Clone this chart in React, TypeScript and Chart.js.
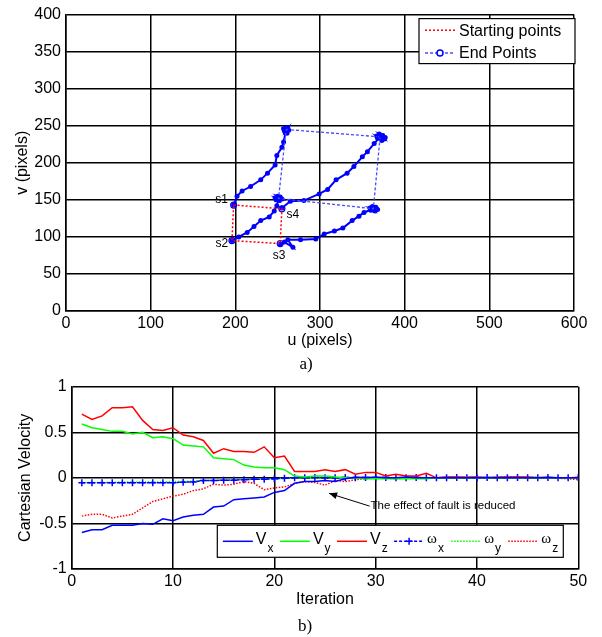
import React, { useEffect, useRef } from 'react';
import { Chart, registerables } from 'chart.js';

Chart.register(...registerables);

const SANS = '"Liberation Sans", Arial, Helvetica, sans-serif';
const SERIF = '"Liberation Serif", "Times New Roman", serif';

// ---------- Top chart (a) data ----------
const uTicks = [0, 100, 200, 300, 400, 500, 600];
const vTicks = [0, 50, 100, 150, 200, 250, 300, 350, 400];

// Starting points polygon s1 -> s4 -> s3 -> s2 -> s1
const startU = [198, 255, 253, 196, 198];
const startV = [143, 138, 91, 95, 143];
const startNames = ['s1', 's4', 's3', 's2'];

// End points polygon
const endU = [260, 371, 363, 251, 260];
const endV = [245, 235, 138, 152, 245];

// Feature trajectories
const traj1U = [198, 202, 208, 218, 230, 238, 247, 249, 255, 257, 260, 258, 262, 259, 263, 257, 261, 260];
const traj1V = [143, 155, 162, 168, 177, 186, 197, 210, 221, 228, 245, 243, 247, 241, 244, 246, 240, 244];
const traj2U = [196, 204, 214, 222, 230, 240, 246, 249, 251, 248, 253, 250, 255, 247, 252, 251];
const traj2V = [95, 100, 106, 114, 122, 127, 135, 142, 152, 150, 154, 155, 151, 153, 149, 152];
const traj3U = [253, 258, 268, 262, 277, 295, 305, 317, 327, 338, 346, 352, 363, 360, 366, 362, 365, 359, 368, 363];
const traj3V = [90, 93, 86, 96, 96, 97, 104, 108, 112, 122, 128, 133, 138, 136, 140, 141, 135, 139, 137, 138];
const traj4U = [255, 265, 281, 299, 309, 319, 332, 340, 350, 356, 364, 371, 368, 374, 370, 376, 367, 373, 377, 371];
const traj4V = [139, 148, 149, 158, 164, 177, 186, 195, 208, 215, 226, 235, 233, 237, 239, 232, 236, 230, 234, 235];

// ---------- Bottom chart (b) data ----------
const iterations = [
  1, 2, 3, 4, 5, 6, 7, 8, 9, 10, 11, 12, 13, 14, 15, 16, 17, 18, 19, 20, 21, 22, 23, 24, 25,
  26, 27, 28, 29, 30, 31, 32, 33, 34, 35, 36, 37, 38, 39, 40, 41, 42, 43, 44, 45, 46, 47, 48, 49, 50,
];
const iterTicks = [0, 10, 20, 30, 40, 50];
const velTicks = [-1, -0.5, 0, 0.5, 1];
const seriesNames = ['Vx', 'Vy', 'Vz', 'ωx', 'ωy', 'ωz'];

const vx = [
  -0.6, -0.57, -0.57, -0.52, -0.52, -0.52, -0.5, -0.51, -0.45, -0.47, -0.43, -0.41, -0.4, -0.32, -0.31,
  -0.24, -0.23, -0.22, -0.21, -0.16, -0.14, -0.06, -0.04, -0.04, -0.03, -0.04, -0.01, 0.01, 0.0, 0.01,
  0.0, 0.0, 0.01, 0.0, 0.0, 0.0, 0.005, 0.0, 0.0, 0.005, 0.0, 0.0, 0.005, 0.0, 0.0, 0.0, 0.005, 0.0, 0.0, 0.0,
];
const vy = [
  0.59, 0.55, 0.53, 0.51, 0.51, 0.48, 0.5, 0.44, 0.45, 0.43, 0.36, 0.35, 0.34, 0.22, 0.21, 0.2, 0.14,
  0.12, 0.11, 0.11, 0.09, 0.02, 0.01, 0.02, 0.02, 0.01, 0.0, 0.0, -0.01, -0.01, -0.01, -0.01, -0.01,
  -0.01, -0.01, 0.0, 0.0, 0.0, 0.005, 0.0, 0.0, 0.005, 0.0, 0.0, 0.0, 0.005, 0.0, 0.0, 0.0, 0.0,
];
const vz = [
  0.7, 0.64, 0.68, 0.77, 0.77, 0.78, 0.63, 0.53, 0.52, 0.55, 0.47, 0.45, 0.41, 0.27, 0.32, 0.29, 0.29,
  0.28, 0.34, 0.22, 0.24, 0.07, 0.07, 0.07, 0.09, 0.07, 0.09, 0.04, 0.06, 0.06, 0.02, 0.04, 0.02, 0.02,
  0.05, 0.0, 0.01, 0.01, 0.01, 0.01, 0.0, 0.01, 0.01, 0.01, 0.01, 0.005, 0.005, 0.0, 0.0, 0.0,
];
const wx = [
  -0.055, -0.055, -0.055, -0.055, -0.055, -0.055, -0.055, -0.055, -0.055, -0.055, -0.047, -0.045, -0.03,
  -0.03, -0.025, -0.025, -0.02, -0.015, -0.015, -0.01, -0.005, 0.0, 0.0, 0.005, 0.0, 0.0, 0.005, 0.0,
  0.005, 0.0, 0.005, 0.0, 0.0, 0.005, 0.0, 0.0, 0.0, 0.005, 0.0, 0.0, 0.005, 0.0, 0.0, 0.005, 0.0, 0.0,
  0.005, 0.0, 0.0, 0.005,
];
const wy = [
  -0.05, -0.05, -0.05, -0.05, -0.045, -0.045, -0.045, -0.045, -0.045, -0.04, -0.04, -0.035, -0.03, -0.03,
  -0.025, -0.02, -0.015, -0.015, -0.01, -0.01, -0.005, 0.0, 0.0, 0.0, 0.005, 0.0, 0.0, 0.0, 0.0, 0.0, 0.0,
  0.0, 0.0, 0.0, 0.0, 0.0, 0.0, 0.0, 0.0, 0.0, 0.0, 0.0, 0.0, 0.0, 0.0, 0.0, 0.0, 0.0, 0.0, 0.0,
];
const wz = [
  -0.42, -0.4, -0.4, -0.44, -0.42, -0.4, -0.33, -0.26, -0.23, -0.2, -0.18, -0.14, -0.12, -0.07, -0.08,
  -0.07, -0.04, -0.06, -0.13, -0.11, -0.1, -0.06, -0.04, -0.05, -0.08, -0.03, -0.04, -0.02, -0.01, 0.0,
  0.0, -0.01, 0.0, 0.01, 0.0, 0.0, 0.005, 0.0, 0.0, 0.005, 0.0, 0.005, 0.01, 0.01, 0.005, 0.0, 0.0,
  -0.005, -0.01, -0.02,
];
const annotationText = 'The effect of fault is reduced';
const arrowTail = [29.4, -0.31];
const arrowHead = [25.4, -0.17];

// ---------- helpers ----------
const pts = (xs: number[], ys: number[]) => xs.map((x, i) => ({ x, y: ys[i] }));

const tickFont = { family: SANS, size: 16 };
const gridOpts = { color: '#000', lineWidth: 1.5, drawTicks: false };
const borderOpts = { display: true, color: '#000', width: 1.5 };

const topLegendPlugin = {
  id: 'topLegend',
  afterDraw(chart: any) {
    const { ctx, chartArea: a } = chart;
    const ds = chart.data.datasets;
    const w = 156, h = 45;
    const x0 = a.right - w + 1, y0 = a.top + 4;
    ctx.save();
    ctx.fillStyle = '#fff';
    ctx.fillRect(x0, y0, w, h);
    ctx.strokeStyle = '#000';
    ctx.lineWidth = 1.2;
    ctx.setLineDash([]);
    ctx.strokeRect(x0, y0, w, h);
    const rows = [ds[0], ds[1]];
    rows.forEach((d: any, i: number) => {
      const yy = y0 + 11.6 + i * 22.7;
      ctx.strokeStyle = d.borderColor;
      ctx.lineWidth = 1.5;
      ctx.setLineDash(d.borderDash || []);
      ctx.beginPath();
      ctx.moveTo(x0 + 6, yy);
      ctx.lineTo(x0 + 36, yy);
      ctx.stroke();
      ctx.setLineDash([]);
      if (d.pointRadius > 0) {
        ctx.strokeStyle = '#0000ff';
        ctx.fillStyle = '#fff';
        ctx.beginPath();
        ctx.arc(x0 + 21, yy, 3, 0, Math.PI * 2);
        ctx.fill();
        ctx.stroke();
      }
      ctx.fillStyle = '#000';
      ctx.font = `16px ${SANS}`;
      ctx.textAlign = 'left';
      ctx.textBaseline = 'middle';
      ctx.fillText(d.label, x0 + 40, yy + 1);
    });
    ctx.restore();
  },
};

const startLabelPlugin = {
  id: 'startLabels',
  afterDatasetsDraw(chart: any) {
    const { ctx, scales } = chart;
    const offsets = [[-12, -5], [11, 6], [-1, 12], [-10, 3]];
    ctx.save();
    ctx.fillStyle = '#000';
    ctx.font = `12px ${SANS}`;
    ctx.textAlign = 'center';
    ctx.textBaseline = 'middle';
    startNames.forEach((n, i) => {
      const px = scales.x.getPixelForValue(startU[i]);
      const py = scales.y.getPixelForValue(startV[i]);
      ctx.fillText(n, px + offsets[i][0], py + offsets[i][1]);
    });
    ctx.restore();
  },
};

const bottomLegendPlugin = {
  id: 'bottomLegend',
  afterDraw(chart: any) {
    const { ctx, chartArea: a } = chart;
    const ds = chart.data.datasets;
    const w = 346, h = 32;
    const x0 = a.right - 15 - w, y0 = a.bottom - 11.7 - h;
    ctx.save();
    ctx.fillStyle = '#fff';
    ctx.fillRect(x0, y0, w, h);
    ctx.strokeStyle = '#000';
    ctx.lineWidth = 1.2;
    ctx.setLineDash([]);
    ctx.strokeRect(x0, y0, w, h);
    const yy = y0 + h / 2;
    ds.forEach((d: any, i: number) => {
      const lx = x0 + 5.5 + i * 57.1;
      ctx.strokeStyle = d.borderColor;
      ctx.lineWidth = 1.5;
      ctx.setLineDash(d.borderDash || []);
      ctx.beginPath();
      ctx.moveTo(lx, yy);
      ctx.lineTo(lx + 30, yy);
      ctx.stroke();
      ctx.setLineDash([]);
      if (d.pointRadius > 0) {
        ctx.lineWidth = 1.5;
        ctx.beginPath();
        ctx.moveTo(lx + 15 - 3.5, yy);
        ctx.lineTo(lx + 15 + 3.5, yy);
        ctx.moveTo(lx + 15, yy - 3.5);
        ctx.lineTo(lx + 15, yy + 3.5);
        ctx.stroke();
      }
      const name: string = d.label;
      const main = name.charAt(0);
      const sub = name.slice(1);
      ctx.fillStyle = '#000';
      ctx.textAlign = 'left';
      ctx.textBaseline = 'alphabetic';
      const isGreek = main === 'ω';
      ctx.font = isGreek ? `15px ${SERIF}` : `16px ${SANS}`;
      const tx = lx + 33;
      ctx.fillText(main, tx, yy + (isGreek ? 2 : 3));
      const mw = ctx.measureText(main).width;
      ctx.font = `12px ${SANS}`;
      ctx.fillText(sub, tx + mw + 1, yy + 11);
    });
    ctx.restore();
  },
};

const annotationPlugin = {
  id: 'faultNote',
  afterDatasetsDraw(chart: any) {
    const { ctx, scales } = chart;
    const tx = scales.x.getPixelForValue(arrowTail[0]);
    const ty = scales.y.getPixelForValue(arrowTail[1]);
    const hx = scales.x.getPixelForValue(arrowHead[0]);
    const hy = scales.y.getPixelForValue(arrowHead[1]);
    ctx.save();
    ctx.strokeStyle = '#000';
    ctx.fillStyle = '#000';
    ctx.lineWidth = 1;
    ctx.setLineDash([]);
    ctx.beginPath();
    ctx.moveTo(tx, ty);
    ctx.lineTo(hx, hy);
    ctx.stroke();
    const ang = Math.atan2(hy - ty, hx - tx);
    const L = 8, W = 3.5;
    ctx.beginPath();
    ctx.moveTo(hx, hy);
    ctx.lineTo(hx - L * Math.cos(ang) + W * Math.sin(ang), hy - L * Math.sin(ang) - W * Math.cos(ang));
    ctx.lineTo(hx - L * Math.cos(ang) - W * Math.sin(ang), hy - L * Math.sin(ang) + W * Math.cos(ang));
    ctx.closePath();
    ctx.fill();
    ctx.font = `11.5px ${SANS}`;
    ctx.textAlign = 'left';
    ctx.textBaseline = 'middle';
    ctx.fillText(annotationText, tx + 1, ty);
    ctx.restore();
  },
};

function makeTopConfig(): any {
  const trajStyle = {
    showLine: true,
    borderColor: '#0000ff',
    backgroundColor: '#0000ff',
    borderWidth: 2,
    pointRadius: 2.5,
    pointBorderWidth: 0,
    pointBackgroundColor: '#0000ff',
  };
  return {
    type: 'scatter',
    data: {
      datasets: [
        {
          label: 'Starting points',
          data: pts(startU, startV),
          showLine: true,
          borderColor: '#ff0000',
          borderWidth: 1.5,
          borderDash: [2, 2],
          pointRadius: 0,
        },
        {
          label: 'End Points',
          data: pts(endU, endV),
          showLine: true,
          borderColor: '#4a4aff',
          borderWidth: 1.3,
          borderDash: [3, 2],
          pointRadius: 3,
          pointBorderWidth: 1.2,
          pointBorderColor: '#0000ff',
          pointBackgroundColor: 'rgba(0,0,0,0)',
        },
        {
          label: 'start markers',
          data: pts(startU.slice(0, 4), startV.slice(0, 4)),
          showLine: false,
          pointRadius: 3,
          pointBorderWidth: 1.2,
          pointBorderColor: '#0000ff',
          pointBackgroundColor: 'rgba(0,0,0,0)',
        },
        { label: 'traj1', data: pts(traj1U, traj1V), ...trajStyle },
        { label: 'traj2', data: pts(traj2U, traj2V), ...trajStyle },
        { label: 'traj3', data: pts(traj3U, traj3V), ...trajStyle },
        { label: 'traj4', data: pts(traj4U, traj4V), ...trajStyle },
      ],
    },
    options: {
      animation: false,
      responsive: false,
      maintainAspectRatio: false,
      devicePixelRatio: 1,
      layout: { padding: { left: 0, right: 28, top: 12, bottom: 0 } },
      plugins: { legend: { display: false }, tooltip: { enabled: false } },
      scales: {
        x: {
          type: 'linear',
          min: 0,
          max: 600,
          afterBuildTicks: (s: any) => { s.ticks = uTicks.map((v) => ({ value: v })); },
          ticks: { font: tickFont, color: '#000', padding: 3, maxRotation: 0, callback: (v: any) => String(v) },
          grid: gridOpts,
          border: borderOpts,
          title: { display: true, text: 'u (pixels)', font: { family: SANS, size: 16 }, color: '#000', padding: { top: 0, bottom: 1.4 } },
          afterFit: (s: any) => { s.height = 41; },
        },
        y: {
          type: 'linear',
          min: 0,
          max: 400,
          afterBuildTicks: (s: any) => { s.ticks = vTicks.map((v) => ({ value: v })); },
          ticks: { font: tickFont, color: '#000', padding: 5, callback: (v: any) => String(v) },
          grid: gridOpts,
          border: borderOpts,
          title: { display: true, text: 'v (pixels)', font: { family: SANS, size: 16 }, color: '#000', padding: { top: 13, bottom: 0 } },
          afterFit: (s: any) => { s.width = 66; },
        },
      },
    },
    plugins: [startLabelPlugin, topLegendPlugin],
  };
}

function makeBottomConfig(): any {
  const base = { showLine: true, borderWidth: 1.5, pointRadius: 0 };
  return {
    type: 'scatter',
    data: {
      datasets: [
        { label: seriesNames[0], data: pts(iterations, vx), ...base, borderColor: '#0000ff' },
        { label: seriesNames[1], data: pts(iterations, vy), ...base, borderColor: '#00ff00' },
        { label: seriesNames[2], data: pts(iterations, vz), ...base, borderColor: '#ff0000' },
        {
          label: seriesNames[3],
          data: pts(iterations, wx),
          ...base,
          borderColor: '#0000ff',
          borderDash: [3, 2],
          pointRadius: 3.5,
          pointStyle: 'cross',
          pointBorderColor: '#0000ff',
          pointBorderWidth: 1.5,
        },
        { label: seriesNames[4], data: pts(iterations, wy), ...base, borderColor: '#00ff00', borderDash: [1.5, 1.5] },
        { label: seriesNames[5], data: pts(iterations, wz), ...base, borderColor: '#ff0000', borderDash: [1.5, 1.5] },
      ],
    },
    options: {
      animation: false,
      responsive: false,
      maintainAspectRatio: false,
      devicePixelRatio: 1,
      layout: { padding: { left: 0, right: 23.7, top: 14.7, bottom: 0 } },
      plugins: { legend: { display: false }, tooltip: { enabled: false } },
      scales: {
        x: {
          type: 'linear',
          min: 0,
          max: 50,
          afterBuildTicks: (s: any) => { s.ticks = iterTicks.map((v) => ({ value: v })); },
          ticks: { font: tickFont, color: '#000', padding: 3, maxRotation: 0, callback: (v: any) => String(v) },
          grid: gridOpts,
          border: borderOpts,
          title: { display: true, text: 'Iteration', font: { family: SANS, size: 16 }, color: '#000', padding: { top: 0, bottom: 2.4 } },
          afterFit: (s: any) => { s.height = 43; },
        },
        y: {
          type: 'linear',
          min: -1,
          max: 1,
          afterBuildTicks: (s: any) => { s.ticks = velTicks.map((v) => ({ value: v })); },
          ticks: { font: tickFont, color: '#000', padding: 5, callback: (v: any) => String(v) },
          grid: gridOpts,
          border: borderOpts,
          title: { display: true, text: 'Cartesian Velocity', font: { family: SANS, size: 16 }, color: '#000', padding: { top: 16.2, bottom: 0 } },
          afterFit: (s: any) => { s.width = 71.7; },
        },
      },
    },
    plugins: [annotationPlugin, bottomLegendPlugin],
  };
}

function ChartCanvas({ top, height, make }: { top: number; height: number; make: () => any }) {
  const ref = useRef<HTMLCanvasElement | null>(null);
  useEffect(() => {
    if (!ref.current) return;
    const chart = new Chart(ref.current, make());
    return () => chart.destroy();
  }, [make]);
  return (
    <canvas
      ref={ref}
      width={602}
      height={height}
      style={{ position: 'absolute', left: 0, top, width: 602, height }}
    />
  );
}

export default function App() {
  const label = (text: string, x: number, y: number) => (
    <div
      style={{
        position: 'absolute',
        left: x,
        top: y,
        transform: 'translate(-50%, -50%)',
        fontFamily: SERIF,
        fontSize: 17,
        lineHeight: 1,
        color: '#000',
        whiteSpace: 'nowrap',
      }}
    >
      {text}
    </div>
  );
  return (
    <div style={{ position: 'absolute', left: 0, top: 0, width: 602, height: 637, background: '#fff', overflow: 'hidden' }}>
      <ChartCanvas top={0} height={352} make={makeTopConfig} />
      <ChartCanvas top={372} height={240} make={makeBottomConfig} />
      {label('a)', 306, 363)}
      {label('b)', 305, 625)}
    </div>
  );
}
